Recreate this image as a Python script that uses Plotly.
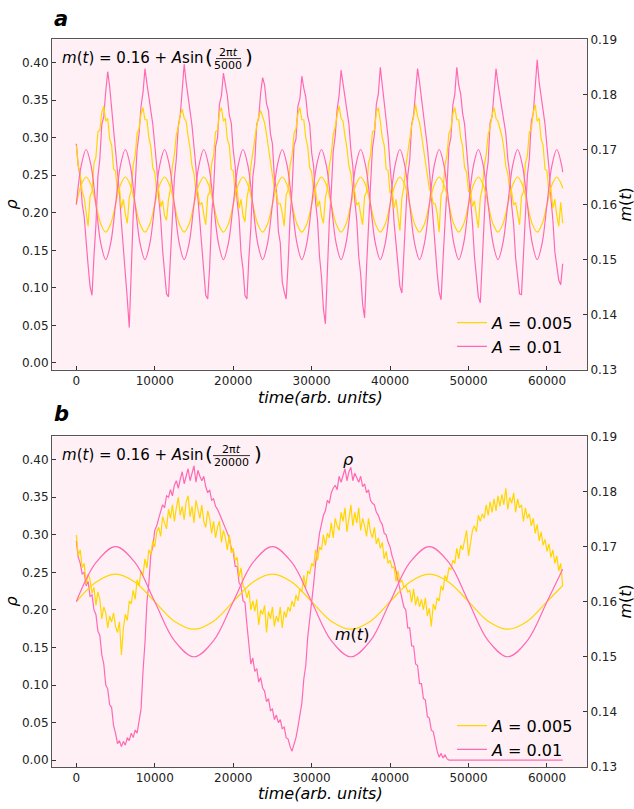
import plotly.graph_objects as go

# ---------------- data ----------------
t_rho = list(range(0, 62001, 250))          # sample grid for rho (249 points)
t_m_a = list(range(0, 62000, 625)) + [62000]  # m(t) samples, panel a
t_m_b = list(range(0, 62000, 2500)) + [62000]  # m(t) samples, panel b

# panel a, rho, A = 0.01 (pink)
rho_a_01 = [
    0.292, 0.262, 0.248, 0.212, 0.195, 0.156, 0.130, 0.102,
    0.090, 0.142, 0.184, 0.248, 0.272, 0.318, 0.328, 0.362, 0.388, 0.368, 0.340, 0.318, 0.291, 0.256, 0.226, 0.186, 0.156, 0.118, 0.085,
    0.047, 0.128, 0.196, 0.236, 0.285, 0.305, 0.342, 0.360, 0.392, 0.372, 0.356, 0.340, 0.318, 0.290, 0.262, 0.222, 0.192, 0.150, 0.124, 0.092,
    0.088, 0.140, 0.182, 0.246, 0.272, 0.316, 0.330, 0.364, 0.398, 0.374, 0.354, 0.338, 0.316, 0.288, 0.260, 0.220, 0.190, 0.150, 0.126, 0.090,
    0.085, 0.128, 0.196, 0.232, 0.288, 0.300, 0.345, 0.356, 0.386, 0.368, 0.356, 0.330, 0.320, 0.284, 0.262, 0.216, 0.192, 0.146, 0.125, 0.090,
    0.085, 0.140, 0.180, 0.248, 0.268, 0.318, 0.326, 0.360, 0.380, 0.370, 0.345, 0.336, 0.305, 0.292, 0.246, 0.232, 0.176, 0.160, 0.108, 0.095,
    0.085, 0.132, 0.194, 0.230, 0.290, 0.298, 0.342, 0.352, 0.382, 0.366, 0.354, 0.328, 0.318, 0.280, 0.262, 0.214, 0.190, 0.142, 0.115, 0.072,
    0.052, 0.120, 0.188, 0.228, 0.282, 0.302, 0.338, 0.356, 0.390, 0.372, 0.352, 0.334, 0.318, 0.284, 0.262, 0.216, 0.190, 0.142, 0.118, 0.078,
    0.060, 0.128, 0.192, 0.236, 0.286, 0.304, 0.345, 0.358, 0.394, 0.370, 0.348, 0.322, 0.300, 0.262, 0.232, 0.188, 0.160, 0.124, 0.102,
    0.093, 0.142, 0.184, 0.250, 0.270, 0.318, 0.330, 0.366, 0.392, 0.374, 0.352, 0.336, 0.316, 0.288, 0.258, 0.220, 0.188, 0.146, 0.120, 0.094,
    0.084, 0.138, 0.196, 0.234, 0.288, 0.300, 0.344, 0.358, 0.394, 0.370, 0.358, 0.332, 0.318, 0.284, 0.258, 0.214, 0.186, 0.142, 0.118, 0.088,
    0.080, 0.140, 0.186, 0.248, 0.268, 0.320, 0.328, 0.364, 0.392, 0.372, 0.356, 0.344, 0.322, 0.306, 0.272, 0.252, 0.210, 0.184, 0.140, 0.118, 0.092,
    0.091, 0.144, 0.186, 0.250, 0.272, 0.322, 0.332, 0.368, 0.404, 0.374, 0.356, 0.334, 0.318, 0.288, 0.260, 0.220, 0.190, 0.148, 0.128, 0.110,
    0.104, 0.132,
]

# panel a, rho, A = 0.005 (yellow)
rho_a_005 = [
    0.290, 0.262, 0.252, 0.228, 0.220, 0.200,
    0.182, 0.222, 0.228, 0.266, 0.274, 0.308, 0.310, 0.334, 0.342, 0.322, 0.326, 0.298, 0.290, 0.258, 0.256, 0.226, 0.232, 0.206, 0.218, 0.198,
    0.186, 0.220, 0.230, 0.264, 0.276, 0.306, 0.312, 0.332, 0.340, 0.324, 0.324, 0.300, 0.288, 0.260, 0.254, 0.228, 0.230, 0.208, 0.216, 0.196,
    0.190, 0.218, 0.232, 0.262, 0.278, 0.304, 0.314, 0.330, 0.338, 0.326, 0.322, 0.302, 0.286, 0.262, 0.252, 0.230, 0.228, 0.210, 0.214, 0.198,
    0.184, 0.222, 0.228, 0.266, 0.276, 0.308, 0.310, 0.334, 0.340, 0.322, 0.326, 0.298, 0.290, 0.258, 0.256, 0.226, 0.232, 0.206, 0.218, 0.196,
    0.188, 0.220, 0.234, 0.262, 0.280, 0.302, 0.316, 0.328, 0.336, 0.328, 0.320, 0.304, 0.284, 0.264, 0.250, 0.232, 0.226, 0.212, 0.212, 0.200,
    0.182, 0.224, 0.230, 0.264, 0.276, 0.306, 0.312, 0.332, 0.340, 0.324, 0.324, 0.300, 0.288, 0.260, 0.254, 0.228, 0.230, 0.208, 0.216, 0.196,
    0.186, 0.220, 0.232, 0.262, 0.278, 0.304, 0.314, 0.330, 0.342, 0.326, 0.322, 0.302, 0.286, 0.262, 0.252, 0.230, 0.228, 0.210, 0.214, 0.198,
    0.184, 0.222, 0.228, 0.266, 0.276, 0.308, 0.310, 0.334, 0.340, 0.322, 0.300, 0.290, 0.258, 0.256, 0.226, 0.232, 0.206, 0.218, 0.196,
    0.176, 0.220, 0.234, 0.262, 0.280, 0.302, 0.316, 0.328, 0.344, 0.328, 0.320, 0.304, 0.284, 0.264, 0.250, 0.232, 0.226, 0.212, 0.212, 0.200,
    0.174, 0.224, 0.230, 0.264, 0.276, 0.306, 0.312, 0.332, 0.340, 0.324, 0.324, 0.300, 0.288, 0.260, 0.254, 0.228, 0.230, 0.208, 0.216, 0.196,
    0.180, 0.220, 0.232, 0.262, 0.278, 0.304, 0.314, 0.330, 0.340, 0.326, 0.322, 0.312, 0.302, 0.286, 0.262, 0.252, 0.230, 0.228, 0.210, 0.214, 0.198,
    0.184, 0.222, 0.228, 0.266, 0.276, 0.308, 0.310, 0.334, 0.344, 0.322, 0.326, 0.298, 0.290, 0.258, 0.256, 0.226, 0.232, 0.206, 0.218, 0.196,
    0.182, 0.214, 0.186,
]

# panel b, rho, A = 0.01 (pink)
rho_b_01 = [
    0.292, 0.270, 0.262, 0.248, 0.250, 0.232, 0.238, 0.218,
    0.220, 0.200, 0.194, 0.172, 0.166, 0.140, 0.128, 0.100,
    0.095, 0.074, 0.070, 0.046, 0.036, 0.022, 0.026, 0.018,
    0.025, 0.020, 0.030, 0.026, 0.036, 0.030, 0.040, 0.036,
    0.052, 0.068, 0.118, 0.156, 0.210, 0.236, 0.274, 0.284,
    0.306, 0.312, 0.322, 0.330, 0.340, 0.336, 0.352, 0.350,
    0.360, 0.352, 0.366, 0.372, 0.362, 0.374, 0.384, 0.368,
    0.380, 0.388, 0.372, 0.384, 0.392, 0.370, 0.386, 0.378,
    0.372, 0.378, 0.364, 0.356, 0.360, 0.346, 0.348, 0.338,
    0.334, 0.328, 0.322, 0.316, 0.310, 0.304, 0.296, 0.282,
    0.278, 0.258, 0.258, 0.236, 0.232, 0.212, 0.210, 0.180,
    0.150, 0.128, 0.136, 0.118, 0.122, 0.104, 0.110, 0.096,
    0.092, 0.078, 0.082, 0.066, 0.068, 0.054, 0.060, 0.050,
    0.054, 0.042, 0.044, 0.030, 0.028, 0.018, 0.012, 0.022,
    0.030, 0.044, 0.058, 0.076, 0.108, 0.126, 0.164, 0.186,
    0.214, 0.234, 0.262, 0.284, 0.302, 0.314, 0.326, 0.332,
    0.346, 0.342, 0.356, 0.362, 0.366, 0.360, 0.378, 0.370,
    0.380, 0.388, 0.372, 0.384, 0.390, 0.372, 0.382, 0.376,
    0.370, 0.378, 0.364, 0.368, 0.356, 0.360, 0.346, 0.342,
    0.340, 0.330, 0.326, 0.318, 0.314, 0.302, 0.300, 0.290,
    0.284, 0.272, 0.264, 0.252, 0.240, 0.230, 0.218, 0.204,
    0.200, 0.176, 0.176, 0.152, 0.152, 0.128, 0.126, 0.102,
    0.102, 0.082, 0.080, 0.058, 0.056, 0.040, 0.038, 0.022,
    0.012, 0.004, 0.009, 0.003, 0.007, 0.002, 0.000, 0.000,
    0.000, 0.000, 0.000, 0.000, 0.000, 0.000, 0.000, 0.000,
    0.000, 0.000, 0.000, 0.000, 0.000, 0.000, 0.000, 0.000,
    0.000, 0.000, 0.000, 0.000, 0.000, 0.000, 0.000, 0.000,
    0.000, 0.000, 0.000, 0.000, 0.000, 0.000, 0.000, 0.000,
    0.000, 0.000, 0.000, 0.000, 0.000, 0.000, 0.000, 0.000,
    0.000, 0.000, 0.000, 0.000, 0.000, 0.000, 0.000, 0.000,
    0.000, 0.000, 0.000, 0.000, 0.000, 0.000, 0.000, 0.000,
    0.000,
]

# panel b, rho, A = 0.005 (yellow)
rho_b_005 = [
    0.300, 0.272, 0.280, 0.256, 0.262, 0.234, 0.248, 0.240,
    0.222, 0.230, 0.206, 0.224, 0.214, 0.188, 0.204, 0.196,
    0.176, 0.192, 0.184, 0.196, 0.178, 0.170, 0.184, 0.140,
    0.176, 0.194, 0.186, 0.212, 0.208, 0.226, 0.214, 0.240,
    0.232, 0.252, 0.246, 0.268, 0.256, 0.280, 0.274, 0.292,
    0.284, 0.304, 0.310, 0.298, 0.324, 0.316, 0.308, 0.334,
    0.322, 0.340, 0.318, 0.336, 0.350, 0.326, 0.338, 0.320,
    0.344, 0.352, 0.324, 0.338, 0.316, 0.346, 0.334, 0.322,
    0.340, 0.318, 0.310, 0.332, 0.322, 0.302, 0.318, 0.296,
    0.310, 0.318, 0.290, 0.306, 0.296, 0.280, 0.300, 0.276,
    0.282, 0.266, 0.270, 0.244, 0.256, 0.232, 0.228, 0.216,
    0.226, 0.200, 0.212, 0.198, 0.214, 0.180, 0.200, 0.194,
    0.206, 0.170, 0.198, 0.188, 0.204, 0.178, 0.192, 0.184,
    0.204, 0.176, 0.198, 0.190, 0.204, 0.198, 0.212, 0.204,
    0.220, 0.212, 0.228, 0.224, 0.246, 0.230, 0.252, 0.248,
    0.262, 0.258, 0.280, 0.266, 0.284, 0.280, 0.300, 0.286,
    0.302, 0.296, 0.316, 0.296, 0.322, 0.312, 0.306, 0.330,
    0.318, 0.336, 0.304, 0.326, 0.340, 0.312, 0.330, 0.316,
    0.336, 0.306, 0.322, 0.312, 0.298, 0.322, 0.304, 0.296,
    0.310, 0.288, 0.296, 0.282, 0.290, 0.268, 0.278, 0.262,
    0.266, 0.256, 0.258, 0.238, 0.252, 0.236, 0.240, 0.230,
    0.232, 0.224, 0.226, 0.210, 0.228, 0.206, 0.218, 0.204,
    0.214, 0.200, 0.216, 0.192, 0.202, 0.178, 0.208, 0.200,
    0.216, 0.212, 0.232, 0.226, 0.246, 0.240, 0.256, 0.254,
    0.266, 0.262, 0.282, 0.268, 0.286, 0.280, 0.296, 0.306,
    0.272, 0.292, 0.306, 0.312, 0.304, 0.326, 0.318, 0.328,
    0.322, 0.340, 0.326, 0.344, 0.330, 0.348, 0.332, 0.352,
    0.338, 0.354, 0.340, 0.362, 0.334, 0.350, 0.342, 0.356,
    0.330, 0.348, 0.336, 0.340, 0.318, 0.336, 0.322, 0.328,
    0.312, 0.322, 0.302, 0.314, 0.292, 0.304, 0.286, 0.294,
    0.278, 0.288, 0.270, 0.280, 0.262, 0.272, 0.252, 0.262, 0.232,
]

# m(t) read at eighth-period points, panel a (period 5000)
m_a_005 = [
    0.16, 0.16354, 0.165, 0.16354, 0.16, 0.15646, 0.155, 0.15646,
    0.16, 0.16354, 0.165, 0.16354, 0.16, 0.15646, 0.155, 0.15646,
    0.16, 0.16354, 0.165, 0.16354, 0.16, 0.15646, 0.155, 0.15646,
    0.16, 0.16354, 0.165, 0.16354, 0.16, 0.15646, 0.155, 0.15646,
    0.16, 0.16354, 0.165, 0.16354, 0.16, 0.15646, 0.155, 0.15646,
    0.16, 0.16354, 0.165, 0.16354, 0.16, 0.15646, 0.155, 0.15646,
    0.16, 0.16354, 0.165, 0.16354, 0.16, 0.15646, 0.155, 0.15646,
    0.16, 0.16354, 0.165, 0.16354, 0.16, 0.15646, 0.155, 0.15646,
    0.16, 0.16354, 0.165, 0.16354, 0.16, 0.15646, 0.155, 0.15646,
    0.16, 0.16354, 0.165, 0.16354, 0.16, 0.15646, 0.155, 0.15646,
    0.16, 0.16354, 0.165, 0.16354, 0.16, 0.15646, 0.155, 0.15646,
    0.16, 0.16354, 0.165, 0.16354, 0.16, 0.15646, 0.155, 0.15646,
    0.16, 0.16354, 0.165, 0.16354, 0.16294,
]
m_a_01 = [
    0.16, 0.16707, 0.17, 0.16707, 0.16, 0.15293, 0.15, 0.15293,
    0.16, 0.16707, 0.17, 0.16707, 0.16, 0.15293, 0.15, 0.15293,
    0.16, 0.16707, 0.17, 0.16707, 0.16, 0.15293, 0.15, 0.15293,
    0.16, 0.16707, 0.17, 0.16707, 0.16, 0.15293, 0.15, 0.15293,
    0.16, 0.16707, 0.17, 0.16707, 0.16, 0.15293, 0.15, 0.15293,
    0.16, 0.16707, 0.17, 0.16707, 0.16, 0.15293, 0.15, 0.15293,
    0.16, 0.16707, 0.17, 0.16707, 0.16, 0.15293, 0.15, 0.15293,
    0.16, 0.16707, 0.17, 0.16707, 0.16, 0.15293, 0.15, 0.15293,
    0.16, 0.16707, 0.17, 0.16707, 0.16, 0.15293, 0.15, 0.15293,
    0.16, 0.16707, 0.17, 0.16707, 0.16, 0.15293, 0.15, 0.15293,
    0.16, 0.16707, 0.17, 0.16707, 0.16, 0.15293, 0.15, 0.15293,
    0.16, 0.16707, 0.17, 0.16707, 0.16, 0.15293, 0.15, 0.15293,
    0.16, 0.16707, 0.17, 0.16707, 0.16588,
]
# m(t) panel b (period 20000)
m_b_005 = [
    0.16, 0.16354, 0.165, 0.16354, 0.16, 0.15646, 0.155, 0.15646,
    0.16, 0.16354, 0.165, 0.16354, 0.16, 0.15646, 0.155, 0.15646,
    0.16, 0.16354, 0.165, 0.16354, 0.16, 0.15646, 0.155, 0.15646,
    0.16, 0.16294,
]
m_b_01 = [
    0.16, 0.16707, 0.17, 0.16707, 0.16, 0.15293, 0.15, 0.15293,
    0.16, 0.16707, 0.17, 0.16707, 0.16, 0.15293, 0.15, 0.15293,
    0.16, 0.16707, 0.17, 0.16707, 0.16, 0.15293, 0.15, 0.15293,
    0.16, 0.16588,
]

rho_ticks = [0.00, 0.05, 0.10, 0.15, 0.20, 0.25, 0.30, 0.35, 0.40]
m_ticks = [0.13, 0.14, 0.15, 0.16, 0.17, 0.18, 0.19]
time_ticks = [0, 10000, 20000, 30000, 40000, 50000, 60000]
legend_labels = ["<i>A</i> = 0.005", "<i>A</i> = 0.01"]
formula_head = "<i>m</i>(<i>t</i>) = 0.16 + <i>A</i>sin"
formula_num = "2π<i>t</i>"
formula_den = ["5000", "20000"]
x_title = "<i>time(arb. units)</i>"

# ---------------- style ----------------
YEL = "#FFD700"
PINK = "#FF69B4"
W, H = 634, 809
FONT = "DejaVu Sans, Verdana, sans-serif"
LW = 1.2

def px_x(x):
    return x / W

def px_y(y):
    return 1 - y / H

xdom = [px_x(52), px_x(587)]
dom_a = [px_y(369), px_y(33)]
dom_b = [px_y(773.3), px_y(437)]

fig = go.Figure()

def add_panel(xa, ya, ya2, rho_y, rho_p, m_y, m_p, t_m, leg):
    fig.add_trace(go.Scatter(x=t_rho, y=rho_p, mode="lines", line=dict(color=PINK, width=LW),
                             name=legend_labels[1], xaxis=xa, yaxis=ya, legend=leg, legendrank=2))
    fig.add_trace(go.Scatter(x=t_rho, y=rho_y, mode="lines", line=dict(color=YEL, width=LW),
                             name=legend_labels[0], xaxis=xa, yaxis=ya, legend=leg, legendrank=1))
    fig.add_trace(go.Scatter(x=t_m, y=m_y, mode="lines", line=dict(color=YEL, width=LW, shape="spline"),
                             showlegend=False, xaxis=xa, yaxis=ya2))
    fig.add_trace(go.Scatter(x=t_m, y=m_p, mode="lines", line=dict(color=PINK, width=LW, shape="spline"),
                             showlegend=False, xaxis=xa, yaxis=ya2))

add_panel("x", "y", "y2", rho_a_005, rho_a_01, m_a_005, m_a_01, t_m_a, "legend")
add_panel("x2", "y3", "y4", rho_b_005, rho_b_01, m_b_005, m_b_01, t_m_b, "legend2")

tickfont = dict(family=FONT, size=12, color="#222")
spine = "#555"
xcommon = dict(range=[-3100, 65100], tickvals=time_ticks, tickformat="d", ticks="inside", ticklen=4,
               tickcolor="#333", showline=True, linecolor=spine, linewidth=1, mirror=True,
               showgrid=False, zeroline=False, tickfont=tickfont, domain=xdom)
ycommon = dict(range=[-0.009, 0.431], tickvals=rho_ticks, tickformat=".2f", ticks="inside", ticklen=4,
               tickcolor="#333", showline=True, linecolor=spine, linewidth=1, mirror=True,
               showgrid=False, zeroline=False, tickfont=tickfont)
y2common = dict(range=[0.13, 0.19], tickvals=m_ticks, tickformat=".2f", ticks="inside", ticklen=4,
                tickcolor="#333", showline=True, linecolor=spine, linewidth=1, side="right",
                showgrid=False, zeroline=False, tickfont=tickfont)

legcommon = dict(xanchor="left", yanchor="top", bgcolor="rgba(0,0,0,0)",
                 font=dict(family=FONT, size=16, color="black"),
                 traceorder="normal", itemwidth=30, tracegroupgap=0)

fig.update_layout(
    width=W, height=H, margin=dict(l=0, r=0, t=0, b=0),
    paper_bgcolor="white", plot_bgcolor="#FFF0F5",
    font=dict(family=FONT, color="black"),
    xaxis=dict(**xcommon, anchor="y"),
    yaxis=dict(**ycommon, domain=dom_a, anchor="x"),
    yaxis2=dict(**y2common, overlaying="y", anchor="x"),
    xaxis2=dict(**xcommon, anchor="y3"),
    yaxis3=dict(**ycommon, domain=dom_b, anchor="x2"),
    yaxis4=dict(**y2common, overlaying="y3", anchor="x2"),
    legend=dict(x=px_x(452), y=px_y(304), **legcommon),
    legend2=dict(x=px_x(452), y=px_y(714), **legcommon),
    showlegend=True,
)

ann = []
def text(x, y, s, size=16, angle=0, xanchor="center"):
    ann.append(dict(x=px_x(x), y=px_y(y), xref="paper", yref="paper", text=s, showarrow=False,
                    xanchor=xanchor, yanchor="middle", textangle=angle,
                    font=dict(family=FONT, size=size, color="black")))

shapes = []
def formula(dy, den, num_cx, bar0, bar1, rparen_x):
    text(60, 52 + dy, formula_head, size=15, xanchor="left")
    text(203, 51 + dy, "(", size=20, xanchor="left")
    text(num_cx, 46 + dy, formula_num, size=11)
    text(num_cx, 59.5 + dy, den, size=11)
    shapes.append(dict(type="line", xref="paper", yref="paper",
                       x0=px_x(bar0), x1=px_x(bar1), y0=px_y(52.5 + dy), y1=px_y(52.5 + dy),
                       line=dict(color="black", width=0.8)))
    text(rparen_x, 51 + dy, ")", size=20, xanchor="left")

formula(0, formula_den[0], 228, 216, 241, 243)
formula(404, formula_den[1], 231, 213, 250, 252)

text(52, 12, "<b><i>a</i></b>", size=21, xanchor="left")
text(52, 414, "<b><i>b</i></b>", size=21, xanchor="left")
text(12, 201, "<i>ρ</i>", size=16, angle=-90)
text(12, 605, "<i>ρ</i>", size=16, angle=-90)
text(626, 201, "<i>m</i>(<i>t</i>)", size=16, angle=-90)
text(626, 605, "<i>m</i>(<i>t</i>)", size=16, angle=-90)
text(320, 397.5, x_title, size=16)
text(320, 800, x_title, size=16)
text(348, 460, "<i>ρ</i>", size=16)
text(352, 639, "<i>m</i>(<i>t</i>)", size=16)
fig.update_layout(annotations=ann, shapes=shapes)

fig.write_html("out.html")
